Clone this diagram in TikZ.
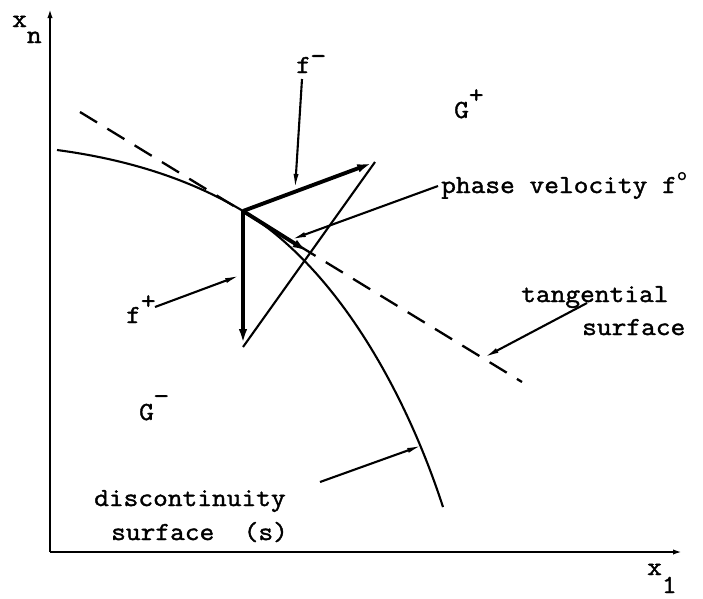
\documentclass[tikz,border=0pt]{standalone}
\usepackage{fontspec}
\newfontfamily\tw[FakeStretch=1.1,FakeBold=1.5]{Latin Modern Mono}
\usetikzlibrary{arrows.meta}
\begin{document}
\begin{tikzpicture}[x=1pt,y=-1pt,
  txt/.style={inner sep=0pt, anchor=base west, font=\tw\fontsize{26}{30}\selectfont},
  axis/.style={line width=2.3pt, -{Latex[length=11pt,width=5pt]}},
  surf/.style={line width=2.1pt},
  tang/.style={line width=2.3pt, dash pattern=on 20pt off 12pt},
  thinl/.style={line width=2.1pt},
  mainarr/.style={line width=3.9pt, -{Latex[length=18pt,width=8pt]}},
  leader/.style={line width=2.1pt, -{Latex[length=16pt,width=5pt]}}]
\useasboundingbox (0,0) rectangle (703,598);

% axes
\coordinate (O) at (50,552);
\coordinate (Ytop) at (50,7);
\coordinate (Xend) at (684,552);
\draw[axis] (O) -- (Ytop);
\draw[axis] (O) -- (Xend);

% velocity triangle points
\coordinate (P) at (243,211);
\coordinate (Fm) at (375,162);
\coordinate (Fp) at (243,347);
\coordinate (F0) at (310,253);

% discontinuity surface
\coordinate (S0) at (57,150);
\coordinate (S1) at (443,507);
\draw[surf] (S0) .. controls (117,158) and (183,175) .. (P)
                 .. controls (337,268) and (406,393) .. (S1);

% tangential surface
\coordinate (T1) at (80,112);
\coordinate (T2) at (522,382);
\draw[tang] (T1) -- (T2);

% velocity triangle
\draw[thinl] (Fm) -- (Fp);
\draw[mainarr] (P) -- (Fm);
\draw[mainarr] (P) -- (Fp);
\draw[mainarr] (P) -- (F0);

% labels
\node[txt] (xn) at (12,27) {x\raisebox{-16pt}{n}};
\node[txt] (x1) at (647,575) {x\raisebox{-18pt}{1}};
\node[txt] (fm) at (296,73) {f\raisebox{9pt}{−}};
\node[txt] (Gp) at (454,118) {G\raisebox{15pt}{+}};
\node[txt] (Gm) at (139,420) {G\raisebox{16pt}{−}};
\node[txt] (fp) at (126,323) {f\raisebox{14pt}{+}};
\node[txt] (pv) at (441,193) {phase velocity f\raisebox{13pt}{\fontsize{18}{18}\selectfont o}};
\node[txt] (tg) at (521,302) {tangential};
\node[txt] (sf) at (582,335) {surface};
\node[txt] (dc) at (94,506) {discontinuity};
\node[txt] (ds) at (111,540) {surface~~(s)};

% leaders
\coordinate (Lfm) at (302,79);
\coordinate (Afm) at (295,190);
\draw[leader] (Lfm) -- (Afm);
\coordinate (Lpv) at (438,186);
\coordinate (Apv) at (290,240);
\draw[leader] (Lpv) -- (Apv);
\coordinate (Lfp) at (155,307);
\coordinate (Afp) at (241,275);
\draw[leader] (Lfp) -- (Afp);
\coordinate (Ltg) at (587,303);
\coordinate (Atg) at (483,358);
\draw[leader] (Ltg) -- (Atg);
\coordinate (Lds) at (320,482);
\coordinate (Ads) at (423,445);
\draw[leader] (Lds) -- (Ads);
\end{tikzpicture}
\end{document}
